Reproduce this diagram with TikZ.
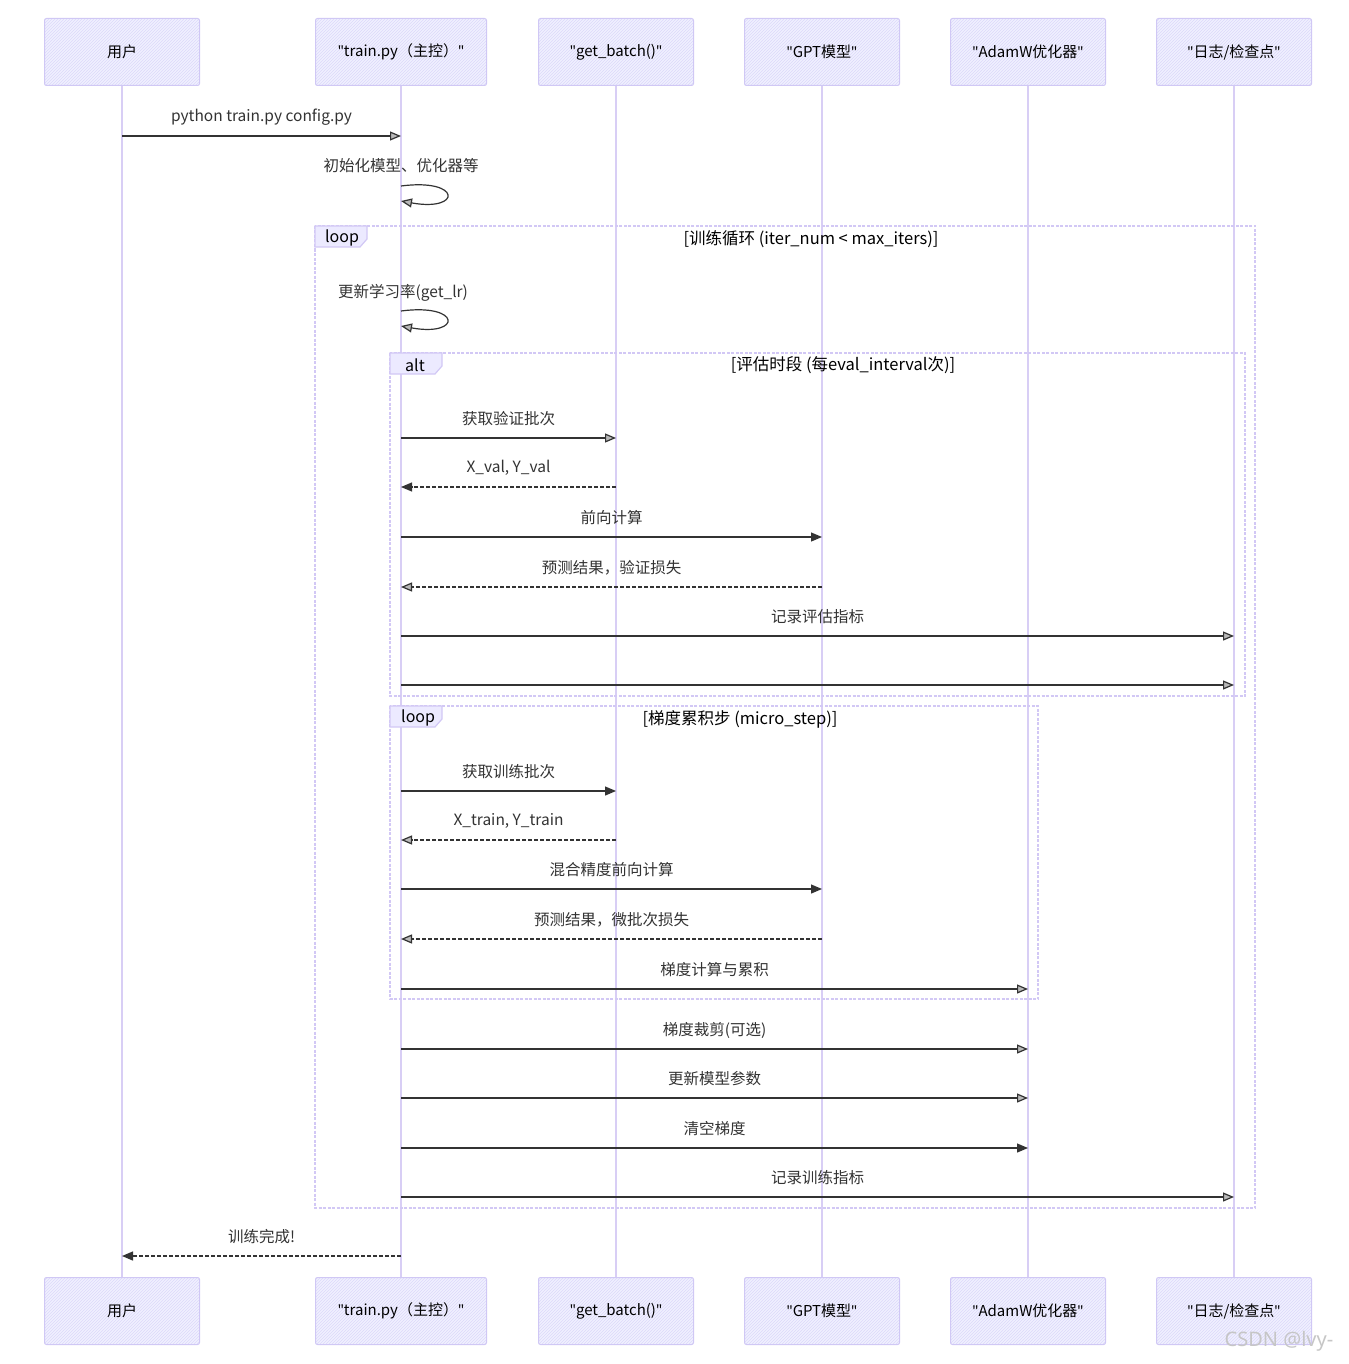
\documentclass[tikz,border=0pt]{standalone}
\usepackage{fontspec}
\setmainfont{Noto Sans CJK SC}
\newfontfamily\latfont{Noto Sans}
\newcommand{\qq}{{\latfont"}}
\usetikzlibrary{arrows.meta,patterns,calc}
\definecolor{boxfill}{RGB}{240,240,255}
\definecolor{boxline}{RGB}{208,200,245}
\definecolor{hatch}{RGB}{220,216,250}
\definecolor{life}{RGB}{216,206,245}
\definecolor{framec}{RGB}{210,200,245}
\definecolor{tabfill}{RGB}{236,234,255}
\definecolor{msgc}{RGB}{51,51,51}
\tikzset{
  actorbox/.style={draw=boxline, line width=1pt, rounded corners=2pt,
    minimum width=155pt, minimum height=67pt, inner sep=0pt,
    preaction={fill=boxfill}, pattern=north east lines, pattern color=hatch,
    font=\fontsize{15}{17}\selectfont},
  lifeline/.style={draw=life, line width=2pt},
  msgsolid/.style={draw=msgc, line width=1.2pt, -{Triangle[length=11pt,width=9pt]}},
  msgopen/.style={draw=msgc, line width=1.2pt, -{Triangle[length=11pt,width=9pt,fill=gray!55]}},
  msgdash/.style={draw=msgc, line width=1.2pt, dash pattern=on 4pt off 2pt, -{Triangle[length=11pt,width=9pt]}},
  msgdasho/.style={draw=msgc, line width=1.2pt, dash pattern=on 4pt off 2pt, -{Triangle[length=11pt,width=9pt,fill=gray!55]}},
  msglabel/.style={font=\fontsize{15.5}{17}\selectfont, text=msgc, inner sep=0pt},
  framebox/.style={draw=framec, line width=1.5pt, dash pattern=on 3pt off 1.5pt},
  tabshape/.style={draw=framec, line width=1.2pt, fill=tabfill},
  tabtext/.style={font=\fontsize{16}{18}\selectfont, inner sep=0pt, anchor=west},
  condtext/.style={font=\fontsize{16.5}{18}\selectfont, inner sep=0pt},
}
\newcommand{\msgline}[5]{%
  \draw[#5] (#1 |- 0,#3) -- (#2 |- 0,#3);
  \node[msglabel] at ($(#1 |- 0,#3)!0.5!(#2 |- 0,#3) + (0,-19)$) {#4};}
\begin{document}
\begin{tikzpicture}[x=1pt,y=-1pt]
\useasboundingbox (0,0) rectangle (1348,1364);
\fill[white] (0,0) rectangle (1348,1364);

% participants top
\node[actorbox] (uT) at (122,52) {用户};
\node[actorbox, minimum width=171pt] (tT) at (401,52) {\qq train.py（主控）\qq};
\node[actorbox] (gT) at (616,52) {\qq get\_batch()\qq};
\node[actorbox] (mT) at (822,52) {\qq GPT模型\qq};
\node[actorbox] (aT) at (1028,52) {\qq AdamW优化器\qq};
\node[actorbox] (lT) at (1234,52) {\qq 日志/检查点\qq};
% participants bottom
\node[actorbox] (uB) at (122,1311) {用户};
\node[actorbox, minimum width=171pt] (tB) at (401,1311) {\qq train.py（主控）\qq};
\node[actorbox] (gB) at (616,1311) {\qq get\_batch()\qq};
\node[actorbox] (mB) at (822,1311) {\qq GPT模型\qq};
\node[actorbox] (aB) at (1028,1311) {\qq AdamW优化器\qq};
\node[actorbox] (lB) at (1234,1311) {\qq 日志/检查点\qq};

% lifelines
\foreach \p in {u,t,g,m,a,l}{
  \draw[lifeline] (\p T.south) -- (\p B.north);
}

% frames
\draw[framebox] (315,226) rectangle (1255,1208);
\draw[tabshape] (315,226) -- (367,226) -- (367,239) -- (360,247) -- (315,247) -- cycle;
\node[tabtext] (loopA) at (325,238) {loop};
\node[condtext] (condA) at (811,239) {[训练循环 (iter\_num < max\_iters)]};

\draw[framebox] (390,353) rectangle (1245,696);
\draw[tabshape] (390,353) -- (442,353) -- (442,366) -- (435,374) -- (390,374) -- cycle;
\node[tabtext] (altA) at (405,365) {alt};
\node[condtext] (condB) at (843,365) {[评估时段 (每eval\_interval次)]};

\draw[framebox] (390,706) rectangle (1038,999);
\draw[tabshape] (390,706) -- (442,706) -- (442,719) -- (435,727) -- (390,727) -- cycle;
\node[tabtext] (loopB) at (401,718) {loop};
\node[condtext] (condC) at (740,719) {[梯度累积步 (micro\_step)]};

% messages
\msgline{uT}{tT}{136}{python train.py config.py}{msgopen}

\node[msglabel] (selfA) at (401,166) {初始化模型、优化器等};
\draw[msgopen] (tT.south |- 0,186) .. controls (462,178) and (462,212) .. (tT.south |- 0,201);

\node[msglabel] (selfB) at (403,293) {更新学习率(get\_lr)};
\draw[msgopen] (tT.south |- 0,311) .. controls (462,303) and (462,337) .. (tT.south |- 0,326);

\msgline{tT}{gT}{438}{获取验证批次}{msgopen}
\msgline{gT}{tT}{487}{X\_val, Y\_val}{msgdash}
\msgline{tT}{mT}{537}{前向计算}{msgsolid}
\msgline{mT}{tT}{587}{预测结果，验证损失}{msgdasho}
\msgline{tT}{lT}{636}{记录评估指标}{msgopen}
\draw[msgopen] (tT.south |- 0,685) -- (lT.south |- 0,685);

\msgline{tT}{gT}{791}{获取训练批次}{msgsolid}
\msgline{gT}{tT}{840}{X\_train, Y\_train}{msgdasho}
\msgline{tT}{mT}{889}{混合精度前向计算}{msgsolid}
\msgline{mT}{tT}{939}{预测结果，微批次损失}{msgdasho}
\msgline{tT}{aT}{989}{梯度计算与累积}{msgopen}
\msgline{tT}{aT}{1049}{梯度裁剪(可选)}{msgopen}
\msgline{tT}{aT}{1098}{更新模型参数}{msgopen}
\msgline{tT}{aT}{1148}{清空梯度}{msgsolid}
\msgline{tT}{lT}{1197}{记录训练指标}{msgopen}
\msgline{tT}{uT}{1256}{训练完成!}{msgdash}

% watermark
\node[font=\fontsize{20}{22}\selectfont\latfont, text=gray!45, inner sep=0pt] (wm) at (1279,1341) {CSDN @lvy-};
\end{tikzpicture}
\end{document}
